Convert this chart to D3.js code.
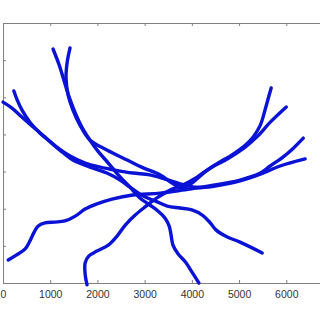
<!DOCTYPE html>
<html>
<head>
<meta charset="utf-8">
<script src="https://cdn.jsdelivr.net/npm/d3@7"></script>
<style>
  body { margin: 0; background: #fff; }
  .axis text { font-family: "Liberation Sans", Arial, sans-serif; font-size: 10.5px; fill: #333; }
  .axis line, .axis path { stroke: #808080; }
</style>
</head>
<body>
<div id="chart"></div>
<script>
// tick values for both axes
const xTicks = [0, 1000, 2000, 3000, 4000, 5000, 6000, 7000];
const xLabels = ["0", "1000", "2000", "3000", "4000", "5000", "6000", ""];
const yTicks = [0, 1000, 2000, 3000, 4000, 5000, 6000, 7000];

// the six trajectories, [x, y] pairs
const trackU = [[1420,6330],[1360,5950],[1335,5520],[1380,5060],[1480,4660],[1630,4250],[1840,3850],[2200,3580],[2630,3310],[2970,3100],[3330,2910],[3580,2690],[3790,2560],[4000,2690],[4280,2990],[4560,3230],[4850,3450],[5130,3710],[5300,3930],[5450,4250],[5550,4660],[5620,4980],[5680,5250]];
const trackC = [[1060,6300],[1190,5870],[1290,5460],[1400,5010],[1530,4580],[1670,4200],[1840,3850],[2010,3550],[2230,3230],[2440,2910],[2690,2580],[2900,2290],[3110,2100],[3280,1940],[3430,1750],[3520,1530],[3560,1290],[3600,1020],[3710,780],[3860,570],[4000,300],[4150,0]];
const trackJ = [[1780,-50],[1740,240],[1740,540],[1820,730],[1990,860],[2230,1020],[2420,1270],[2590,1560],[2800,1830],[3010,2050],[3260,2290],[3540,2500],[3810,2640],[4110,2850],[4390,3100],[4750,3340],[5130,3660],[5400,3960],[5660,4330],[6000,4740]];
const trackI = [[110,620],[280,750],[470,920],[570,1130],[660,1370],[740,1530],[890,1620],[1100,1640],[1310,1670],[1530,1800],[1740,1990],[1990,2130],[2310,2260],[2750,2370],[3330,2420],[3960,2530],[4490,2610],[5020,2750],[5450,2930],[5870,3150],[6400,3340]];
const trackA = [[0,4870],[190,4710],[400,4470],[640,4200],[890,3930],[1140,3660],[1420,3420],[1740,3230],[2060,3120],[2370,3040],[2750,2960],[3110,2910],[3430,2800],[3750,2670],[4070,2580],[4490,2640],[5020,2770],[5450,2960],[5660,3150],[5930,3390],[6150,3630],[6360,3900]];
const trackB = [[230,5170],[300,4930],[400,4660],[570,4330],[780,4040],[1000,3800],[1250,3530],[1480,3310],[1840,3120],[2200,2960],[2480,2770],[2690,2580],[2970,2340],[3220,2210],[3480,2070],[3750,2020],[4000,1970],[4220,1830],[4390,1620],[4510,1430],[4750,1240],[5020,1100],[5490,810]];

const tracks = [trackU, trackC, trackJ, trackI, trackA, trackB];

const svgWidth = 320, svgHeight = 320;
const margin = { top: 23, left: 3 };
const width = 330.5, height = 260;

const svg = d3.select("#chart").append("svg")
    .attr("width", svgWidth)
    .attr("height", svgHeight);

const g = svg.append("g")
    .attr("transform", "translate(" + margin.left + "," + margin.top + ")");

const x = d3.scaleLinear().domain([0, 7000]).range([0, width]);
const y = d3.scaleLinear().domain([0, 7000]).range([height, 0]);

// box axes, ticks pointing inward like matlab
g.append("g")
    .attr("class", "axis")
    .attr("transform", "translate(0," + height + ")")
    .call(d3.axisBottom(x).tickValues(xTicks).tickSizeInner(-3).tickSizeOuter(0)
        .tickPadding(8).tickFormat((d, i) => xLabels[i]));

g.append("g")
    .attr("class", "axis")
    .call(d3.axisTop(x).tickValues(xTicks).tickSizeInner(-3).tickSizeOuter(0).tickFormat(""));

// y labels sit outside the visible area in the original, only the ticks show
g.append("g")
    .attr("class", "axis")
    .call(d3.axisLeft(y).tickValues(yTicks).tickSizeInner(-3).tickSizeOuter(0).tickFormat(""));

g.append("g")
    .attr("class", "axis")
    .attr("transform", "translate(" + width + ",0)")
    .call(d3.axisRight(y).tickValues(yTicks).tickSizeInner(-3).tickSizeOuter(0).tickFormat(""));

const line = d3.line()
    .x(d => x(d[0]))
    .y(d => y(d[1]))
    .curve(d3.curveCatmullRom.alpha(0.5));

g.selectAll(".track")
    .data(tracks)
    .enter().append("path")
    .attr("class", "track")
    .attr("d", line)
    .attr("fill", "none")
    .attr("stroke", "#0a12d6")
    .attr("stroke-width", 3.4)
    .attr("stroke-linecap", "round")
    .attr("stroke-linejoin", "round");
</script>
</body>
</html>
